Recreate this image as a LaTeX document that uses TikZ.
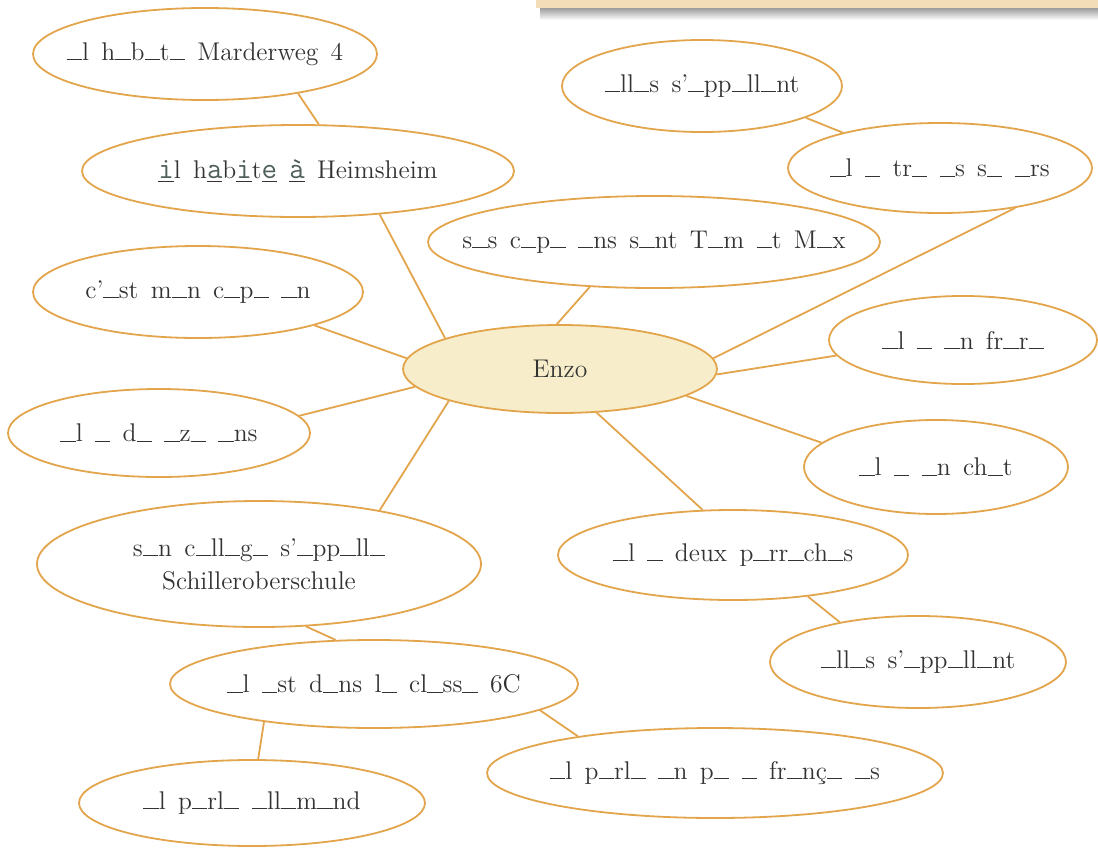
\documentclass[tikz,border=0pt]{standalone}
\usetikzlibrary{shapes.geometric}
\definecolor{orng}{HTML}{E2A54C}
\definecolor{enzofill}{HTML}{F7EDCB}
\definecolor{txt}{HTML}{333333}
\definecolor{fillc}{HTML}{4F5F5C}
\definecolor{banner}{HTML}{F2DDB8}
\newcommand\bl{\rule{0.6em}{0.5pt}}
\newcommand\fl[1]{\underline{\textcolor{fillc}{\fontsize{15}{16}\ttfamily #1}}}
\newcommand\zb[1]{\makebox[0pt]{#1}}
\newcommand\bubfont{\fontsize{12.8}{16.5}\selectfont\spaceskip=0.48em plus 0.1em\relax}
\begin{document}
\begin{tikzpicture}[x=0.5pt,y=-0.5pt,
  bub/.style 2 args={draw=orng, line width=0.9pt, ellipse, inner sep=0pt,
    minimum width=#1pt, minimum height=#2pt, align=center, text=txt,
    font=\bubfont},
  con/.style={draw=orng, line width=0.9pt}]
\useasboundingbox (0,0) rectangle (1098,847);
% banner at top right
\shade[top color=black!45, bottom color=white] (540,6) rectangle (1098,20);
\fill[banner] (536,0) rectangle (1098,8);
% nodes
\node[bub={172}{46}] (M) at (205,54) {\zb{\bl l h\bl b\bl t\bl{} Marderweg 4}};
\node[bub={216}{46}] (H) at (298,171) {\zb{\fl{i}l h\fl{a}b\fl{i}t\fl{e} \fl{à} Heimsheim}};
\node[bub={140}{46}] (LT) at (702,86) {\zb{\bl ll\bl s s’\bl pp\bl ll\bl nt}};
\node[bub={152}{45}] (TR) at (940,168) {\zb{\bl l \bl{} tr\bl{} \bl s s\bl{} \bl rs}};
\node[bub={226}{46}] (SC) at (654,242) {\zb{s\bl s c\bl p\bl{} \bl ns s\bl nt T\bl m \bl t M\bl x}};
\node[bub={165}{46}] (CE) at (198,292) {\zb{c’\bl st m\bl n c\bl p\bl{} \bl n}};
\node[bub={157}{44}, fill=enzofill] (E) at (560,369) {Enzo};
\node[bub={151}{44}] (DZ) at (159,433) {\zb{\bl l \bl{} d\bl{} \bl z\bl{} \bl ns}};
\node[bub={134}{44}] (FR) at (963,340) {\zb{\bl l \bl{} \bl n fr\bl r\bl}};
\node[bub={132}{47}] (CH) at (936,467) {\zb{\bl l \bl{} \bl n ch\bl t}};
\node[bub={222}{63}] (SCH) at (259,564) {\zb{s\bl n c\bl ll\bl g\bl{} s’\bl pp\bl ll\bl}\\Schilleroberschule};
\node[bub={175}{45}] (DX) at (733,555) {\zb{\bl l \bl{} deux p\bl rr\bl ch\bl s}};
\node[bub={148}{46}] (LB) at (918,662) {\zb{\bl ll\bl s s’\bl pp\bl ll\bl nt}};
\node[bub={204}{44}] (SIX) at (374,684) {\zb{\bl l \bl st d\bl ns l\bl{} cl\bl ss\bl{} 6C}};
\node[bub={228}{45}] (FN) at (715,773) {\zb{\bl l p\bl rl\bl{} \bl n p\bl{} \bl{} fr\bl nç\bl{} \bl s}};
\node[bub={173}{43}] (AL) at (252,803) {\zb{\bl l p\bl rl\bl{} \bl ll\bl m\bl nd}};
% connectors
\draw[con] (M.-23) -- (H.66);
\draw[con] (H.-28) -- (E.165);
\draw[con] (LT.-17) -- (TR.160);
\draw[con] (TR.-28) -- (E.4);
\draw[con] (SC.215) -- (E.94);
\draw[con] (CE.-16) -- (E.176);
\draw[con] (DZ.7) -- (E.187);
\draw[con] (FR.187) -- (E.-2);
\draw[con] (CH.168) -- (E.-12);
\draw[con] (E.-50) -- (DX.124);
\draw[con] (E.196) -- (SCH.24);
\draw[con] (DX.-29) -- (LB.153);
\draw[con] (SCH.-53) -- (SIX.131);
\draw[con] (SIX.-9) -- (FN.165);
\draw[con] (SIX.199) -- (AL.82);
\end{tikzpicture}
\end{document}
